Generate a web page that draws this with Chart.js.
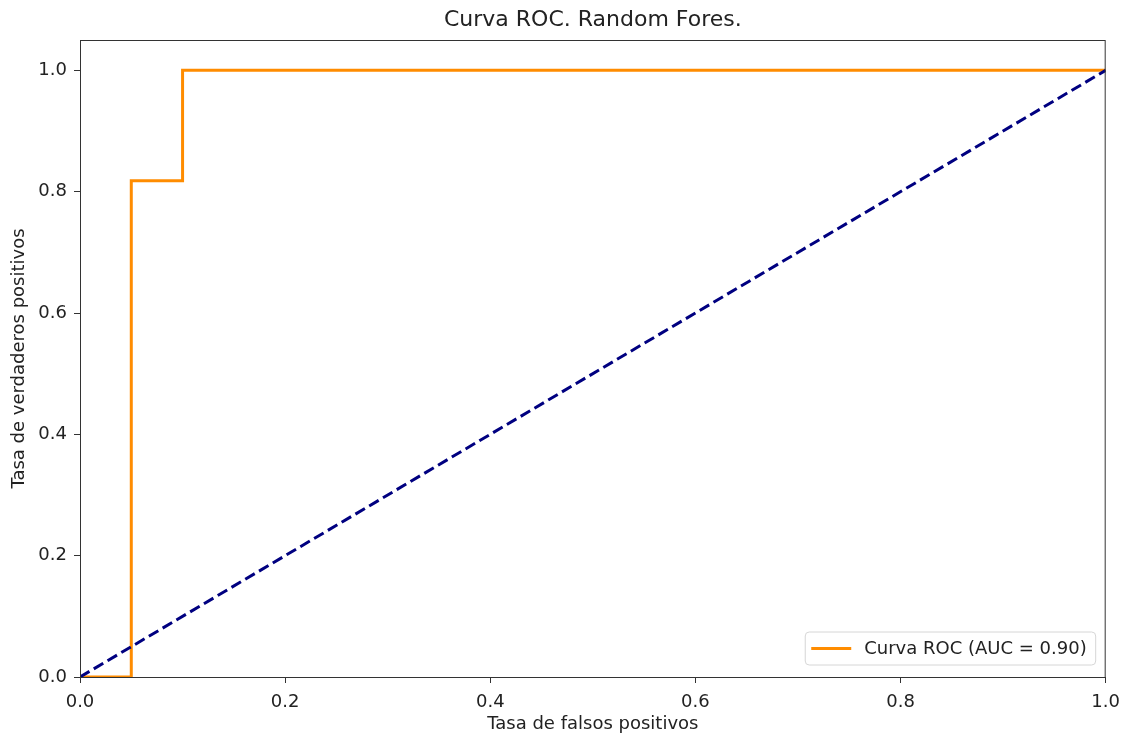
<!DOCTYPE html>
<html>
<head>
<meta charset="utf-8">
<script src="https://cdn.jsdelivr.net/npm/chart.js@4.4.1/dist/chart.umd.min.js"></script>
<style>
  html, body { margin: 0; padding: 0; background: #fff; }
  #wrap { width: 1129px; height: 740px; }
</style>
</head>
<body>
<div id="wrap"><canvas id="roc"></canvas></div>
<script>
// curva ROC (fpr, tpr)
const fpr = [0, 0.05, 0.05, 0.1, 0.1, 1.0];
const tpr = [0, 0, 0.818, 0.818, 1.0, 1.0];
// linea de azar
const diagX = [0, 1];
const diagY = [0, 1];
const xTicks = [0, 0.2, 0.4, 0.6, 0.8, 1.0];
const yTicks = [0, 0.2, 0.4, 0.6, 0.8, 1.0];
const rocLabel = 'Curva ROC (AUC = 0.90)';

Chart.defaults.font.family = '"DejaVu Sans", sans-serif';
Chart.defaults.color = '#222';

// marco completo del area + leyenda abajo a la derecha
const frameAndLegend = {
    id: 'frameAndLegend',
    afterDraw(chart) {
        const { ctx, chartArea: a } = chart;
        ctx.save();
        ctx.strokeStyle = '#333';
        ctx.lineWidth = 1;
        ctx.strokeRect(a.left + 0.5, a.top + 0.5, a.right - a.left - 1, a.bottom - a.top);

        const ds = chart.data.datasets[0];
        ctx.font = '18px "DejaVu Sans", sans-serif';
        const tw = ctx.measureText(ds.label).width;
        const w = tw + 68, h = 33;
        const x = a.right - 10 - w, y = a.bottom - 12 - h;
        ctx.beginPath();
        ctx.roundRect(x, y, w, h, 4);
        ctx.fillStyle = 'rgba(255,255,255,0.8)';
        ctx.fill();
        ctx.strokeStyle = '#d6d6d6';
        ctx.stroke();
        ctx.beginPath();
        ctx.moveTo(x + 6, y + h / 2);
        ctx.lineTo(x + 46, y + h / 2);
        ctx.strokeStyle = ds.borderColor;
        ctx.lineWidth = 3;
        ctx.stroke();
        ctx.fillStyle = '#222';
        ctx.textBaseline = 'middle';
        ctx.fillText(ds.label, x + 59, y + h / 2 + 1);
        ctx.restore();
    }
};

new Chart(document.getElementById('roc'), {
    type: 'scatter',
    data: {
        datasets: [
            {
                label: rocLabel,
                data: fpr.map((v, i) => ({ x: v, y: tpr[i] })),
                showLine: true,
                borderColor: '#ff8c00',
                borderWidth: 3,
                pointRadius: 0,
                fill: false,
                order: 1
            },
            {
                label: 'azar',
                data: diagX.map((v, i) => ({ x: v, y: diagY[i] })),
                showLine: true,
                borderColor: '#000080',
                borderWidth: 3,
                borderDash: [11, 5],
                pointRadius: 0,
                fill: false,
                order: 0
            }
        ]
    },
    options: {
        responsive: true,
        maintainAspectRatio: false,
        animation: false,
        layout: { padding: { right: 22 } },
        plugins: {
            legend: { display: false },
            tooltip: { enabled: false },
            title: {
                display: true,
                fullSize: false,
                text: 'Curva ROC. Random Fores.',
                font: { size: 22, weight: 'normal' },
                color: '#222',
                padding: { top: 7, bottom: 6.6 }
            }
        },
        scales: {
            x: {
                type: 'linear',
                min: 0,
                max: 1,
                afterBuildTicks: s => { s.ticks = xTicks.map(v => ({ value: v })); },
                afterFit: s => { s.height = 63; },
                ticks: {
                    font: { size: 18 },
                    color: '#222',
                    padding: 9,
                    maxRotation: 0,
                    callback: v => v.toFixed(1)
                },
                grid: { drawOnChartArea: false, drawTicks: true, tickLength: 6, color: '#333' },
                border: { display: true, color: '#333' },
                title: {
                    display: true,
                    text: 'Tasa de falsos positivos',
                    font: { size: 18 },
                    color: '#222',
                    padding: { top: 0, bottom: 5 }
                }
            },
            y: {
                type: 'linear',
                min: 0,
                max: 1.05,
                afterBuildTicks: s => { s.ticks = yTicks.map(v => ({ value: v })); },
                afterFit: s => { s.width = 80; },
                ticks: {
                    font: { size: 18 },
                    color: '#222',
                    padding: 7,
                    callback: v => v.toFixed(1)
                },
                grid: { drawOnChartArea: false, drawTicks: true, tickLength: 6, color: '#333' },
                border: { display: true, color: '#333' },
                title: {
                    display: true,
                    text: 'Tasa de verdaderos positivos',
                    font: { size: 18 },
                    color: '#222',
                    padding: { top: 9, bottom: 0 }
                }
            }
        }
    },
    plugins: [frameAndLegend]
});
</script>
</body>
</html>
